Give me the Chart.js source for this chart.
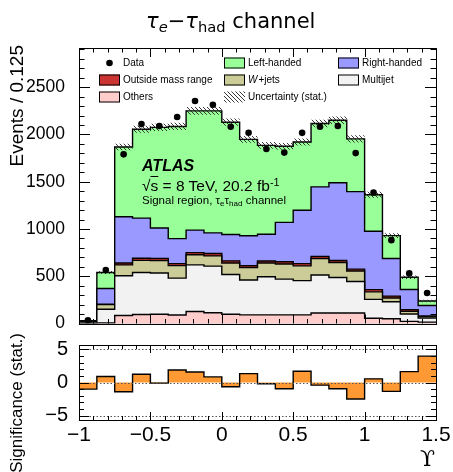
<!DOCTYPE html>
<html>
<head>
<meta charset="utf-8">
<script src="https://cdn.jsdelivr.net/npm/chart.js@4"></script>
<style>
body { margin: 0; background: #fff; }
#wrap { position: relative; width: 453px; height: 472px; overflow: hidden; font-family: "Liberation Sans", Arial, sans-serif; color: #000; }
canvas { position: absolute; left: 0; }
#main { top: 0; }
#sig { top: 330px; }
.t { position: absolute; white-space: nowrap; line-height: 1; }
.rot { transform-origin: 0 0; transform: rotate(-90deg); text-align: right; }
sub, sup { line-height: 0; font-size: 70%; }
sub { vertical-align: -0.25em; }
sup { vertical-align: 0.5em; }
</style>
</head>
<body>
<div id="wrap">
  <canvas id="main" width="453" height="340"></canvas>
  <canvas id="sig" width="453" height="142"></canvas>
  <div class="t" style="left:146px;top:9px;font:21px 'DejaVu Sans'"><i>τ</i><sub><i>e</i></sub>−<i>τ</i><sub>had</sub> channel</div>
  <div class="t" style="left:142px;top:157px;font:italic bold 16px 'Liberation Sans'">ATLAS</div>
  <div class="t" style="left:142px;top:177px;font:15.5px 'Liberation Sans'">√<span style="text-decoration:overline">s</span> = 8 TeV, 20.2 fb<sup>-1</sup></div>
  <div class="t" style="left:142px;top:194px;font:11.5px 'Liberation Sans'">Signal region, τ<sub>e</sub>τ<sub>had</sub> channel</div>
  <div class="t rot" style="left:6px;top:245px;width:200px;font:19px 'Liberation Sans'">Events / 0.125</div>
  <div class="t rot" style="left:7px;top:533px;width:200px;font:17px 'Liberation Sans'">Significance (stat.)</div>
  <div class="t" style="left:420px;top:446px;font:22px 'DejaVu Serif'">ϒ</div>
</div>
<script>
// bins of 0.125 in Upsilon
const binEdges = [-1, -0.875, -0.75, -0.625, -0.5, -0.375, -0.25, -0.125, 0, 0.125, 0.25,
                  0.375, 0.5, 0.625, 0.75, 0.875, 1, 1.125, 1.25, 1.375, 1.5]

const others      = [3, 5, 85, 95, 98, 90, 127, 113, 98, 91, 91, 91, 91, 111, 111, 111, 55, 50, 23, 15]
const multijet    = [15, 145, 420, 445, 437, 390, 493, 494, 420, 370, 404, 379, 363, 402, 375, 333, 200, 180, 78, 42]
const wJets       = [3, 50, 115, 128, 130, 132, 107, 108, 122, 131, 145, 160, 156, 175, 159, 111, 80, 40, 29, 13]
const outsideMass = [1, 5, 20, 22, 23, 21, 23, 25, 23, 20, 22, 23, 23, 22, 22, 20, 23, 20, 17, 10]
const rightHanded = [4, 165, 490, 425, 322, 265, 238, 219, 278, 316, 283, 417, 566, 736, 823, 820, 618, 398, 213, 110]
const leftHanded  = [4, 170, 738, 940, 1065, 1187, 1262, 1291, 1189, 1020, 940, 805, 721, 670, 660, 558, 387, 242, 130, 48]
const dataEvents  = [35, 565, 1790, 2110, 2090, 2185, 2355, 2315, 2082, 2018, 1847, 1808, 2017, 2081, 2089, 1803, 1385, 882, 530, 322]
const statUnc     = [5, 15, 35, 38, 38, 38, 40, 40, 38, 36, 36, 36, 37, 40, 40, 38, 32, 26, 18, 13]
const significance = [-1.0, 0.9, -1.4, 1.25, -0.1, 1.9, 1.6, 0.85, -0.65, 1.35, -0.2, -0.95, 1.7, -0.4, -0.95, -2.5, 0.55, -1.35, 1.65, 4.0]

const yTicks = [0, 500, 1000, 1500, 2000, 2500]
const xTicks = [-1, -0.5, 0, 0.5, 1, 1.5]
const sigTicks = [-5, 0, 5]

const layers = [
    { name: 'Others', values: others, color: '#ffcccc' },
    { name: 'Multijet', values: multijet, color: '#f2f2f2' },
    { name: 'W+jets', values: wJets, color: '#cccc99' },
    { name: 'Outside mass range', values: outsideMass, color: '#cc3333' },
    { name: 'Right-handed', values: rightHanded, color: '#9999ff' },
    { name: 'Left-handed', values: leftHanded, color: '#99ff99' },
]
const legendOrder = ['Data', 'Left-handed', 'Right-handed', 'Outside mass range', 'W+jets', 'Multijet', 'Others', 'Uncertainty (stat.)']
const legendCols = [99, 224, 338]
const legendRows = [63, 80, 97]

Chart.defaults.font.family = '"Liberation Sans", Arial, sans-serif'
Chart.defaults.color = '#000'

// running sums, like a THStack
let running = others.map(() => 0)
const cumulative = layers.map((l) => {
    running = running.map((r, i) => r + l.values[i])
    return running
})
const total = running

const steps = (vals) => binEdges.map((e, i) => ({ x: e, y: vals[Math.min(i, vals.length - 1)] }))
const centers = binEdges.slice(0, -1).map((e, i) => (e + binEdges[i + 1]) / 2)
const minus = (v) => (v < 0 ? '\u2212' + Math.abs(v) : String(v))

const makeHatch = () => {
    const c = document.createElement('canvas')
    c.width = 4
    c.height = 4
    const g = c.getContext('2d')
    g.strokeStyle = '#222'
    g.lineWidth = 0.9
    g.beginPath()
    g.moveTo(0, 0); g.lineTo(4, 4)
    g.moveTo(-1, 3); g.lineTo(1, 5)
    g.moveTo(3, -1); g.lineTo(5, 1)
    g.stroke()
    return g.createPattern(c, 'repeat')
}
const hatch = makeHatch()

const framePlugin = {
    id: 'frame',
    afterDraw(chart, args, o) {
        const { ctx, chartArea: a } = chart
        const xs = chart.scales.x
        const ys = chart.scales.y
        ctx.save()
        if (o.dotted) {
            ctx.setLineDash([1.5, 2])
            ctx.strokeStyle = '#555'
            ctx.lineWidth = 1
            ctx.beginPath()
            o.dotted.forEach((v) => {
                const py = Math.round(ys.getPixelForValue(v)) + 0.5
                ctx.moveTo(a.left, py)
                ctx.lineTo(a.right, py)
            })
            ctx.stroke()
            ctx.setLineDash([])
        }
        ctx.strokeStyle = '#000'
        ctx.lineWidth = 1
        ctx.beginPath()
        const nx = Math.round((o.xTo - o.xFrom) / o.xStep)
        for (let i = 0; i <= nx; i++) {
            const px = Math.round(xs.getPixelForValue(o.xFrom + i * o.xStep)) + 0.5
            const len = i % o.xEvery === 0 ? o.xLong : o.xShort
            ctx.moveTo(px, a.bottom); ctx.lineTo(px, a.bottom - len)
            ctx.moveTo(px, a.top); ctx.lineTo(px, a.top + len)
        }
        const ny = Math.round((o.yTo - o.yFrom) / o.yStep)
        for (let i = 0; i <= ny; i++) {
            const py = Math.round(ys.getPixelForValue(o.yFrom + i * o.yStep)) + 0.5
            const len = i % o.yEvery === 0 ? o.yLong : o.yShort
            ctx.moveTo(a.left, py); ctx.lineTo(a.left + len, py)
            ctx.moveTo(a.right, py); ctx.lineTo(a.right - len, py)
        }
        ctx.stroke()
        ctx.strokeRect(Math.round(a.left) + 0.5, Math.round(a.top) + 0.5, Math.round(a.right - a.left), Math.round(a.bottom - a.top))
        ctx.restore()
    }
}

const legendPlugin = {
    id: 'atlasLegend',
    afterDatasetsDraw(chart) {
        const ctx = chart.ctx
        ctx.save()
        ctx.textBaseline = 'middle'
        legendOrder.forEach((name, i) => {
            const x = legendCols[i % 3]
            const y = legendRows[Math.floor(i / 3)]
            const layer = layers.find((l) => l.name === name)
            if (name === 'Data') {
                ctx.fillStyle = '#000'
                ctx.beginPath()
                ctx.arc(x + 10.5, y, 3.3, 0, Math.PI * 2)
                ctx.fill()
            } else if (layer) {
                ctx.fillStyle = layer.color
                ctx.fillRect(x, y - 5.5, 21, 11)
                ctx.strokeStyle = '#000'
                ctx.lineWidth = 1
                ctx.strokeRect(x + 0.5, y - 5, 20, 10)
            } else {
                ctx.fillStyle = hatch
                ctx.fillRect(x, y - 5.5, 21, 11)
            }
            ctx.fillStyle = '#000'
            let tx = x + 24
            if (name.startsWith('W+')) {
                ctx.font = 'italic 10px "Liberation Sans"'
                ctx.fillText('W', tx, y)
                tx += ctx.measureText('W').width + 1
                ctx.font = '10px "Liberation Sans"'
                ctx.fillText(name.slice(1), tx, y)
            } else {
                ctx.font = '10px "Liberation Sans"'
                ctx.fillText(name, tx, y)
            }
        })
        ctx.restore()
    }
}

// index 0 is drawn last, so the tallest stack layer goes at the end
const histSets = layers.map((l, k) => ({
    label: l.name,
    data: steps(cumulative[k]),
    stepped: true,
    fill: 'origin',
    backgroundColor: l.color,
    borderColor: '#000',
    borderWidth: 1.4,
    pointRadius: 0
}))

new Chart('main', {
    type: 'line',
    data: {
        datasets: [
            {
                label: 'Data',
                data: centers.map((c, i) => ({ x: c, y: dataEvents[i] })),
                showLine: false,
                pointRadius: 3.3,
                pointBackgroundColor: '#000',
                pointBorderWidth: 0
            },
            {
                label: 'Uncertainty (stat.)',
                data: steps(total.map((t, i) => t + statUnc[i])),
                stepped: true,
                fill: '+1',
                backgroundColor: hatch,
                borderWidth: 0,
                pointRadius: 0
            },
            {
                label: 'unc low',
                data: steps(total.map((t, i) => t - statUnc[i])),
                stepped: true,
                fill: false,
                borderWidth: 0,
                pointRadius: 0
            },
            ...histSets
        ]
    },
    options: {
        responsive: false,
        animation: false,
        events: [],
        layout: { padding: { left: 0, right: 17, top: 48, bottom: 8 } },
        plugins: {
            legend: { display: false },
            tooltip: { enabled: false },
            frame: { xFrom: -1, xTo: 1.5, xStep: 0.1, xEvery: 5, xLong: 9, xShort: 4.5,
                     yFrom: 0, yTo: 2900, yStep: 100, yEvery: 5, yLong: 11, yShort: 5.5 }
        },
        scales: {
            x: { type: 'linear', min: -1, max: 1.5, display: false },
            y: {
                min: 0,
                max: 2915,
                afterFit: (s) => { s.width = 79 },
                afterBuildTicks: (s) => { s.ticks = yTicks.map((v) => ({ value: v })) },
                grid: { display: false },
                border: { display: false },
                ticks: { font: { size: 17.5 }, padding: 6, callback: minus }
            }
        }
    },
    plugins: [framePlugin, legendPlugin]
})

new Chart('sig', {
    type: 'line',
    data: {
        datasets: [{
            label: 'Significance (stat.)',
            data: steps(significance),
            stepped: true,
            fill: 'origin',
            backgroundColor: '#ff9933',
            borderColor: '#000',
            borderWidth: 1.4,
            pointRadius: 0
        }]
    },
    options: {
        responsive: false,
        animation: false,
        events: [],
        layout: { padding: { left: 0, right: 17, top: 15, bottom: 0 } },
        plugins: {
            legend: { display: false },
            tooltip: { enabled: false },
            frame: { dotted: sigTicks,
                     xFrom: -1, xTo: 1.5, xStep: 0.1, xEvery: 5, xLong: 8, xShort: 4,
                     yFrom: -5, yTo: 5, yStep: 1, yEvery: 5, yLong: 10, yShort: 5 }
        },
        scales: {
            x: {
                type: 'linear',
                min: -1,
                max: 1.5,
                afterFit: (s) => { s.height = 52 },
                afterBuildTicks: (s) => { s.ticks = xTicks.map((v) => ({ value: v })) },
                grid: { display: false },
                border: { display: false },
                ticks: { font: { size: 21 }, padding: -5, maxRotation: 0, autoSkip: false, callback: minus }
            },
            y: {
                min: -5.68,
                max: 5.68,
                afterFit: (s) => { s.width = 79 },
                afterBuildTicks: (s) => { s.ticks = sigTicks.map((v) => ({ value: v })) },
                grid: { display: false },
                border: { display: false },
                ticks: { font: { size: 20 }, padding: 3, callback: minus }
            }
        }
    },
    plugins: [framePlugin]
})
</script>
</body>
</html>
